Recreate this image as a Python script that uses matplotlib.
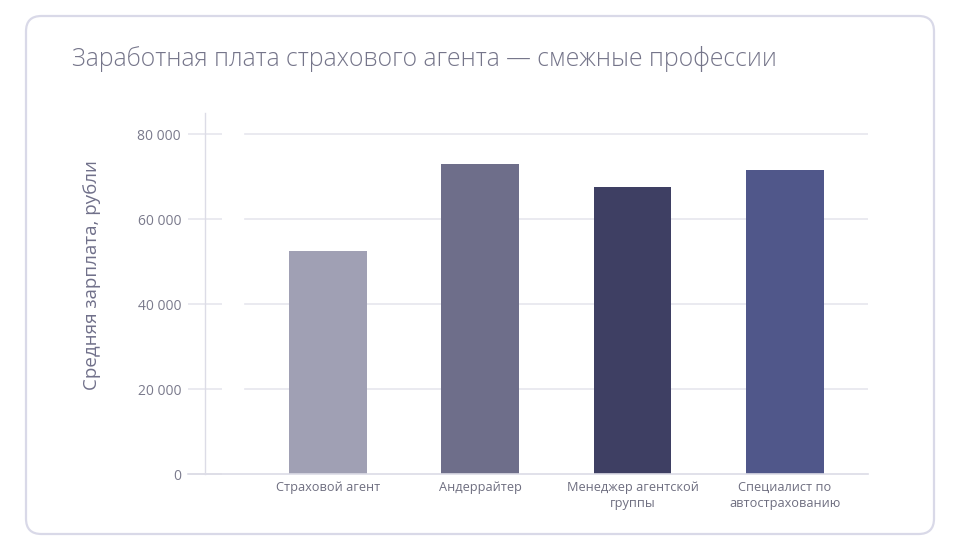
import matplotlib.pyplot as plt
from matplotlib.patches import FancyBboxPatch
from matplotlib.ticker import FuncFormatter

plt.rcParams['font.family'] = ['Open Sans', 'DejaVu Sans']

# Data
professions = ['Страховой агент', 'Андеррайтер', 'Менеджер агентской\nгруппы', 'Специалист по\nавтострахованию']
salaries = [52500, 73000, 67500, 71500]
colors = ['#a0a0b4', '#6e6e8a', '#3e3f63', '#50578a']
yticks = [0, 20000, 40000, 60000, 80000]

W, H = 961, 550
fig = plt.figure(figsize=(W / 100, H / 100), dpi=100)
fig.patch.set_facecolor('white')

# card frame
card = FancyBboxPatch((26 / W, 16 / H), 908 / W, 518 / H,
                      boxstyle='round,pad=0,rounding_size=0.016',
                      transform=fig.transFigure, facecolor='none',
                      edgecolor='#d9d9e8', linewidth=1.6, mutation_aspect=W / H,
                      zorder=-1)
fig.patches.append(card)

fig.text(72 / W, 1 - 59 / H, 'Заработная плата страхового агента — смежные профессии',
         fontsize=17.8, color='#75758a', va='center', ha='left', fontweight='light')

ax = fig.add_axes([205 / W, 1 - 474 / H, (868 - 205) / W, (474 - 113) / H])
ax.patch.set_alpha(0)
x = range(len(professions))
ax.bar(x, salaries, width=0.51, color=colors, zorder=3)

ax.set_xlim(-0.807, 3.545)
ax.set_ylim(0, 85000)
ax.set_yticks(yticks)
ax.yaxis.set_major_formatter(FuncFormatter(lambda v, p: f'{int(v):,}'.replace(',', ' ')))
ax.set_xticks(list(x))
ax.set_xticklabels(professions, fontsize=9.2, color='#6e6e80', linespacing=1.3)

# gridlines start a bit right of the axis
gstart = (245 - 205) / (868 - 205)
for t in yticks[1:]:
    ax.axhline(t, xmin=gstart, xmax=1, color='#e6e6ee', linewidth=1.2, zorder=1)

for s in ['top', 'right', 'bottom']:
    ax.spines[s].set_visible(False)
ax.spines['left'].set_color('#dcdce6')
ax.spines['left'].set_linewidth(1)
ax.axhline(0, xmin=-17 / (868 - 205), xmax=1, color='#dcdce6', linewidth=1.2,
           clip_on=False, zorder=4)

ax.tick_params(axis='y', direction='inout', length=24.5, width=1.2, color='#e6e6ee',
               labelsize=10, labelcolor='#7a7a8c', pad=5)
ax.tick_params(axis='x', length=0, pad=5)

fig.text(92 / W, 1 - 275 / H, 'Средняя зарплата, рубли', rotation=90,
         fontsize=13.5, color='#70708a', ha='center', va='center')

fig.savefig('out.png', dpi=100, facecolor='white')
